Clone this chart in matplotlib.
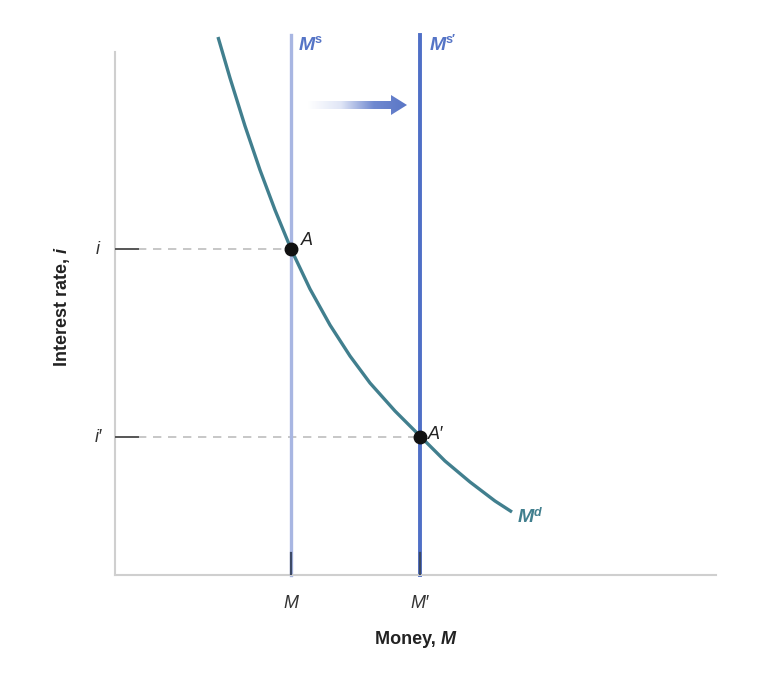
import numpy as np
import matplotlib.pyplot as plt
from matplotlib.patches import Polygon
from matplotlib.colors import LinearSegmentedColormap

plt.rcParams['font.family'] = ['Liberation Sans', 'DejaVu Sans']

# money demand curve (x = money, y = interest rate)
md_x = [103, 115, 130, 145, 160, 176, 195, 215, 235, 255, 280, 305, 330, 355, 380, 397]
md_y = [538, 497, 449, 405, 365, 326, 286, 250, 219, 192, 164, 139, 114, 93, 74, 63]

ms_x = 176      # M
ms2_x = 305     # M'
i_y = 326       # i
i2_y = 138      # i'

x_ticks = [ms_x, ms2_x]
x_ticklabels = ['M', 'M\u2032']
y_ticks = [i_y, i2_y]
y_ticklabels = ['i', 'i\u2032']

curve_col = '#417f8e'
ms_col = '#a8b6e2'
ms2_col = '#4f6fc6'
lab_col = '#5574c6'
axis_col = '#cfcfcf'

fig = plt.figure(figsize=(7.66, 6.74), dpi=100)
ax = fig.add_axes([115/766, 99/674, 601/766, 523/674])
ax.set_xlim(0, 601)
ax.set_ylim(0, 523)
for s in ['top', 'right']:
    ax.spines[s].set_visible(False)
for s in ['left', 'bottom']:
    ax.spines[s].set_color(axis_col)
    ax.spines[s].set_linewidth(1.5)
ax.set_xticks([])
ax.set_yticks([])

# supply lines
ax.plot([ms_x, ms_x], [0, 540], color=ms_col, lw=2.4, clip_on=False, zorder=2)
ax.plot([ms2_x, ms2_x], [0, 540], color=ms2_col, lw=2.8, clip_on=False, zorder=2)
# dark tick bits at the bottom
for xx in x_ticks:
    ax.plot([xx, xx], [0, 22], color='#3d4a66', lw=1.6, zorder=3)

# demand curve
ax.plot(md_x, md_y, color=curve_col, lw=2.4, clip_on=False, zorder=4,
        solid_capstyle='butt', solid_joinstyle='round')

# dashed guides and y ticks
for yy, xx in zip(y_ticks, x_ticks):
    ax.plot([23, xx], [yy, yy], color='#bdbdbd', lw=1.2, ls=(0, (5, 4)), zorder=1)
    ax.plot([0, 23], [yy, yy], color='#555555', lw=1.4, zorder=3)
    ax.plot(xx, yy, 'o', color='#111111', ms=9, zorder=5)

# point labels
ax.text(ms_x + 10, i_y + 4, 'A', style='italic', fontsize=13, color='#222222')
ax.text(ms2_x + 8, i2_y - 2, 'A\u2032', style='italic', fontsize=13, color='#222222')

# tick labels
for yy, lab in zip(y_ticks, y_ticklabels):
    ax.text(-17, yy, lab, style='italic', fontsize=13, ha='center', va='center',
            color='#333333')
for xx, lab in zip(x_ticks, x_ticklabels):
    ax.text(xx, -29, lab, style='italic', fontsize=13, ha='center', va='center',
            color='#333333')

# axis titles
ax.text(326, -64, 'Money, ', fontsize=13, fontweight='bold', ha='right', va='center',
        color='#222222')
ax.text(326, -64, 'M', fontsize=13, fontweight='bold', style='italic', ha='left',
        va='center', color='#222222')
ax.text(-53, 322, 'Interest rate, ', fontsize=13, fontweight='bold', rotation=90,
        ha='center', va='top', color='#222222')
ax.text(-53, 322, 'i', fontsize=13, fontweight='bold', style='italic', rotation=90,
        ha='center', va='bottom', color='#222222')

# curve labels
ax.text(ms_x + 8, 530, 'M', fontsize=14, fontweight='bold', style='italic',
        color=lab_col, va='center')
ax.text(ms_x + 24, 535, 's', fontsize=9, fontweight='bold', color=lab_col, va='center')
ax.text(ms2_x + 10, 530, 'M', fontsize=14, fontweight='bold', style='italic',
        color=lab_col, va='center')
ax.text(ms2_x + 26, 535, 's\u2032', fontsize=9, fontweight='bold', color=lab_col,
        va='center')
ax.text(md_x[-1] + 6, 57, 'M', fontsize=14, fontweight='bold', style='italic',
        color=curve_col, va='center')
ax.text(md_x[-1] + 22, 62, 'd', fontsize=9, fontweight='bold', style='italic',
        color=curve_col, va='center')

# gradient arrow showing the shift
ay = 470
shaft = [(193, ay - 4), (276, ay - 4), (276, ay - 10), (292, ay),
         (276, ay + 10), (276, ay + 4), (193, ay + 4)]
arrow = Polygon(shaft, closed=True, facecolor='none', edgecolor='none')
ax.add_patch(arrow)
grad = np.linspace(0, 1, 256).reshape(1, -1)
cmap = LinearSegmentedColormap.from_list('g', ['#ffffff', '#e0e6f6', '#7089d0', '#5a76c6'])
im = ax.imshow(grad, extent=[193, 292, ay - 10, ay + 10], cmap=cmap, aspect='auto',
               zorder=3)
im.set_clip_path(arrow)

fig.savefig('out.png', dpi=100)
